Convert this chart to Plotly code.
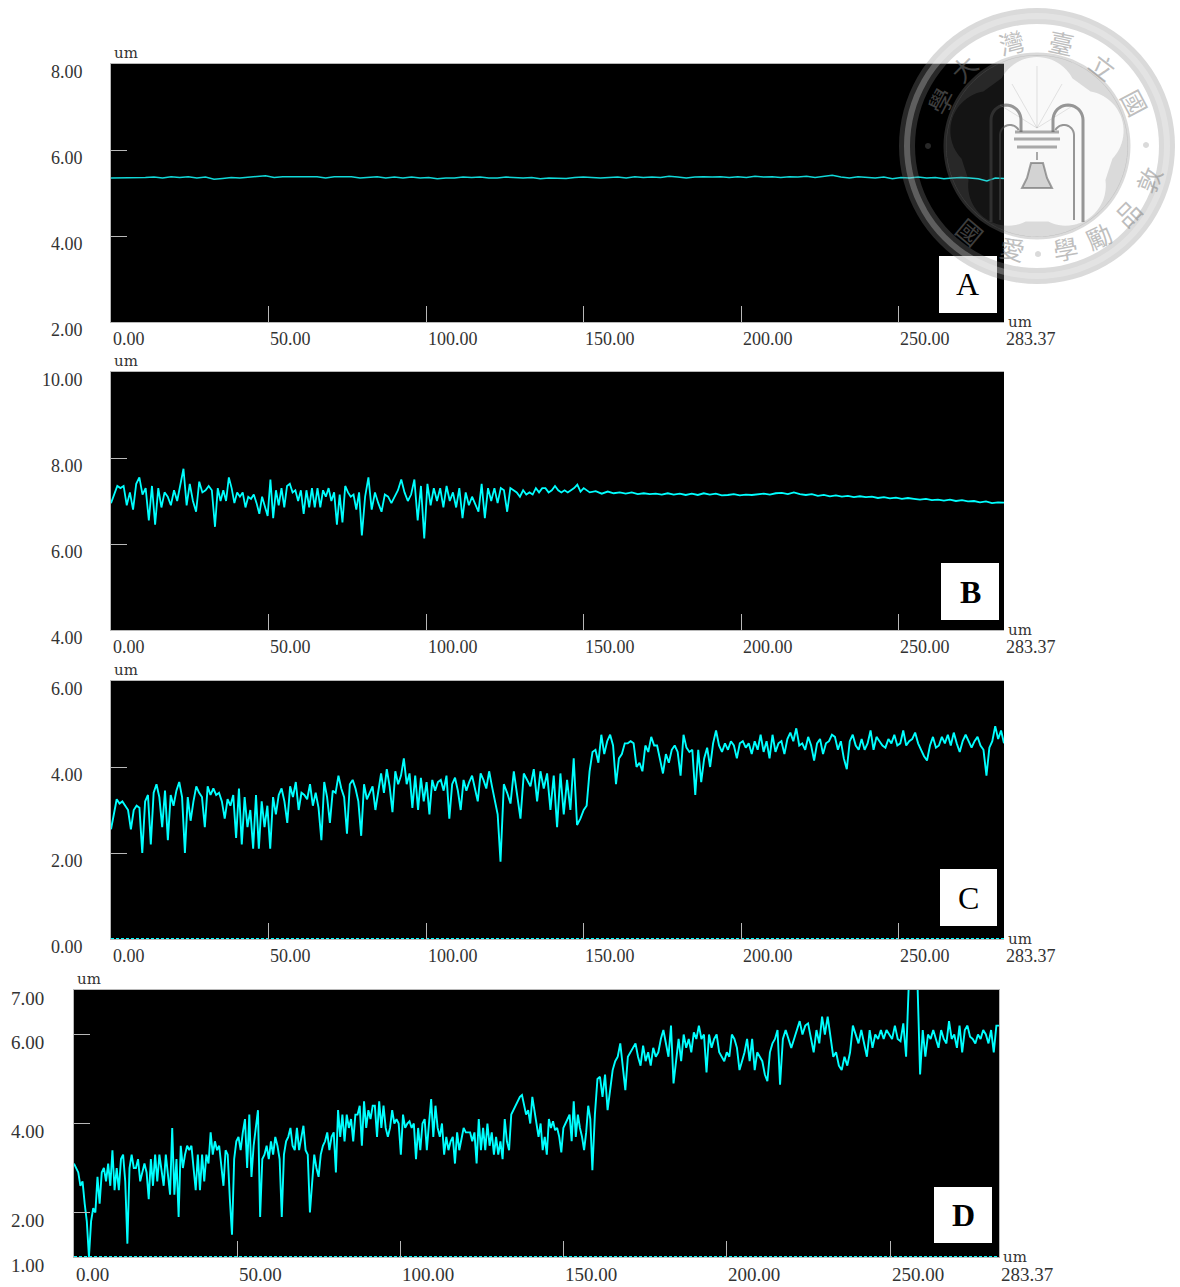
import math
import plotly.graph_objects as go

W, H = 1180, 1287
CYAN = "#00ffff"
TICK = "#b8b8b8"
TXT = "#333333"
SERIF = "Liberation Serif"

X_MAX = 283.37
x_ticks = [0, 50, 100, 150, 200, 250, X_MAX]
x_labels = ["0.00", "50.00", "100.00", "150.00", "200.00", "250.00", "283.37"]

a_ticks = [2, 4, 6, 8]
a_labels = ["2.00", "4.00", "6.00", "8.00"]
b_ticks = [4, 6, 8, 10]
b_labels = ["4.00", "6.00", "8.00", "10.00"]
c_ticks = [0, 2, 4, 6]
c_labels = ["0.00", "2.00", "4.00", "6.00"]
d_ticks = [1, 2, 4, 6, 7]
d_labels = ["1.00", "2.00", "4.00", "6.00", "7.00"]

panel_letters = ["A", "B", "C", "D"]

a_vals = [5.35, 5.35, 5.35, 5.36, 5.37, 5.35, 5.38, 5.36, 5.38, 5.35, 5.37, 5.32, 5.34, 5.36, 5.35, 5.37, 5.38, 5.4, 5.36,
          5.38, 5.38, 5.38, 5.38, 5.38, 5.35, 5.38, 5.38, 5.38, 5.35, 5.37, 5.38, 5.35, 5.37, 5.35, 5.37, 5.35, 5.36, 5.33,
          5.35, 5.35, 5.37, 5.36, 5.37, 5.35, 5.35, 5.37, 5.36, 5.35, 5.36, 5.33, 5.35, 5.35, 5.34, 5.36, 5.37, 5.36, 5.35,
          5.36, 5.37, 5.35, 5.38, 5.36, 5.37, 5.36, 5.39, 5.37, 5.35, 5.37, 5.38, 5.37, 5.38, 5.36, 5.38, 5.36, 5.39, 5.37,
          5.38, 5.36, 5.38, 5.37, 5.39, 5.36, 5.38, 5.41, 5.37, 5.35, 5.38, 5.37, 5.35, 5.37, 5.33, 5.36, 5.35, 5.37, 5.35,
          5.36, 5.33, 5.35, 5.36, 5.35, 5.33, 5.28, 5.35, 5.34]

b_seg1 = [6.95, 7.35, 7.3, 7.35, 6.9, 7.2, 6.8, 7.4, 7.55, 7.15, 7.3, 6.55, 7.35, 6.45, 7.3, 6.85, 7.2, 7.1, 6.9, 7.25, 7.0,
          7.4, 7.75, 6.9, 7.4, 7.0, 6.75, 7.45, 7.2, 7.25, 7.35, 7.25, 6.4]
b_seg2 = [7.3, 7.0, 7.25, 7.0, 7.55, 7.3, 6.95, 7.2, 7.1, 7.2, 6.85, 7.1, 7.05, 7.15, 6.95, 6.7, 7.1, 6.85, 6.65, 7.5, 6.6,
          7.25, 6.9, 7.3, 6.85, 7.35, 7.4, 7.2, 7.25, 7.0, 7.25, 6.7, 7.25, 6.85, 7.3, 6.85, 7.3, 6.85, 7.25, 7.1, 7.3, 7.0,
          7.2, 6.45, 7.15, 6.5, 7.35, 7.2, 7.1, 7.15, 6.8, 7.2, 6.2]
b_seg3 = [7.1, 7.55, 6.8, 7.2, 6.95, 6.75, 7.15, 7.1, 6.95, 7.1, 7.25, 7.5, 7.2, 7.0, 7.15, 7.5, 6.55, 7.35, 6.13]
b_seg4 = [7.4, 6.9, 7.3, 7.0, 7.3, 6.85, 7.35, 7.0, 7.2, 6.85, 7.3, 6.6, 7.2, 6.9, 7.1, 6.9, 6.75, 7.4, 6.6, 7.3, 7.0, 7.3,
          6.95, 7.3, 7.25, 6.75, 7.3, 7.25, 7.2, 7.1, 7.25, 7.15, 7.2, 7.15, 7.3, 7.2, 7.3, 7.3, 7.2, 7.25, 7.35, 7.25, 7.2,
          7.25, 7.2, 7.25, 7.3, 7.38, 7.22, 7.3]
b_seg5 = [7.2, 7.23, 7.17, 7.22, 7.18, 7.2, 7.17, 7.2, 7.16, 7.18, 7.16, 7.17, 7.15, 7.18, 7.15, 7.17, 7.14, 7.17, 7.14,
          7.18, 7.15, 7.17, 7.13, 7.14, 7.16, 7.13, 7.15, 7.14, 7.16, 7.17, 7.15, 7.18, 7.19, 7.16, 7.2, 7.16, 7.14, 7.16,
          7.12, 7.14, 7.11, 7.13, 7.1, 7.12, 7.09, 7.11, 7.09, 7.1, 7.07, 7.09, 7.06, 7.08, 7.05, 7.07, 7.05, 7.03, 7.05,
          7.02, 7.03, 7.01, 7.03, 7.0, 7.02, 6.99, 7.0, 6.97, 6.99, 6.95, 6.97, 6.96]

c_seg1 = [2.55, 3.25, 3.15, 3.2, 3.1, 3.0, 2.55, 3.0, 3.1, 3.05, 2.0, 3.2, 3.35, 2.2, 3.4, 3.6, 3.3, 2.6, 3.45, 2.3, 3.35, 3.1,
          3.45, 3.65, 3.3, 2.0, 3.3, 2.75, 3.2, 3.55, 3.4, 3.3, 2.6, 3.55, 3.35, 3.5, 3.35, 3.4, 3.2, 2.8, 3.25, 3.1, 3.35, 2.35,
          3.5, 2.2, 3.3, 2.6, 3.0, 2.1, 3.35, 2.1, 3.2, 2.6, 3.1, 2.1, 3.3, 2.9, 3.35, 3.5, 3.2, 2.7, 3.55, 3.3, 3.65, 3.0, 3.4,
          3.35, 3.25, 3.6, 3.1, 3.4, 3.05, 2.3, 3.65, 3.3, 2.7, 3.45, 3.4, 3.8, 3.5, 3.3, 2.45, 3.6, 3.7, 3.5, 3.2, 2.4, 3.6,
          3.25, 3.4, 3.55, 3.0, 3.4, 3.85, 3.4, 3.95, 3.55, 2.95, 3.9, 3.6, 3.8, 4.2, 3.6, 3.85, 3.05, 3.8, 3.0, 3.75, 3.2, 3.65,
          2.9, 3.7, 3.45, 3.65, 3.7, 3.45, 3.8, 2.8, 3.6, 3.75, 3.45, 3.0, 3.7, 3.45, 3.65, 3.8, 3.5, 3.2, 3.85, 3.7, 3.5, 3.9,
          3.55, 3.2, 2.9, 1.8]
c_seg2 = [3.6, 3.4, 3.15, 3.9, 3.4, 2.8, 3.85, 3.7, 3.55, 3.95, 3.2, 3.9, 3.5, 3.85, 3.0, 3.8, 2.6, 3.85, 2.9, 3.7, 3.0, 4.2,
          2.65, 2.8, 3.0]
c_seg3 = [3.1, 3.9, 4.35, 4.4, 4.1, 4.75, 4.3, 4.6, 4.75, 4.5, 3.6, 4.2, 4.3, 4.55, 4.55, 4.6, 4.55, 4.0, 4.1, 3.9, 4.5, 4.35,
          4.7, 4.5, 4.5, 4.2, 3.85, 4.3, 4.1, 4.4, 4.5, 4.35, 3.8, 4.75, 4.45, 4.35, 4.4, 3.35]
c_seg4 = [4.4, 3.65, 4.2, 4.45, 4.0, 4.55, 4.85, 4.5, 4.35, 4.55, 4.4, 4.6, 4.5, 4.2, 4.55, 4.6, 4.45, 4.55, 4.3, 4.6, 4.4, 4.75,
          4.35, 4.6, 4.2, 4.75, 4.35, 4.55, 4.6, 4.3, 4.65, 4.8, 4.6, 4.9, 4.5, 4.55, 4.4, 4.7, 4.5, 4.15, 4.55, 4.65, 4.3, 4.55,
          4.6, 4.75, 4.7, 4.4, 4.6, 4.2, 3.95, 4.6, 4.75, 4.5, 4.4, 4.65, 4.4, 4.55, 4.85, 4.4, 4.7, 4.6, 4.5, 4.45, 4.65, 4.55,
          4.75, 4.5, 4.55, 4.85, 4.5, 4.6, 4.65, 4.8, 4.55, 4.4, 4.25, 4.15, 4.5, 4.7, 4.45, 4.5, 4.7, 4.55, 4.75, 4.5, 4.8, 4.55,
          4.35, 4.6, 4.75, 4.6, 4.45, 4.6, 4.7, 4.5, 4.4, 3.8]
c_seg5 = [4.45, 4.6, 4.95, 4.65, 4.85, 4.55]

d_seg1 = [3.1, 2.9, 2.6, 2.7, 2.2, 1.8, 1.0, 1.8, 2.1, 2.0, 2.8, 2.2, 2.9, 3.0, 2.7, 3.1, 2.6, 3.4, 2.5, 3.0, 2.5, 3.2, 3.3, 2.7,
          1.3, 3.0, 3.3, 3.0, 3.0, 3.2, 2.7, 2.9, 3.1, 2.9, 2.3, 3.2, 2.6, 3.3, 2.7, 3.3, 3.0, 2.6, 3.3, 2.9, 2.4, 3.9, 2.4, 3.2,
          1.9, 3.5, 3.0, 3.3, 3.5, 3.4, 3.5, 3.0, 2.5, 3.3, 2.5, 3.3, 2.7, 3.3, 3.1, 3.8, 3.3, 3.6, 3.4, 3.5, 3.0, 2.6, 3.4, 3.3,
          2.3, 1.5]
d_seg2 = [3.2, 3.6, 3.7, 3.4, 3.8, 4.1, 3.0, 4.2, 2.8, 3.5, 3.9, 4.3, 1.9, 3.2, 3.3, 3.5, 3.2, 3.6, 3.3, 3.7, 3.5, 3.2, 1.9, 3.3,
          3.6, 3.7, 3.9, 3.5, 3.4, 3.9, 3.4, 3.7, 3.95, 3.4, 3.3, 2.0, 2.6, 3.3, 3.0, 2.8, 3.3, 3.5, 3.6, 3.8, 3.4, 3.7, 3.8, 2.9,
          4.3, 3.7, 4.2, 3.6, 4.2, 3.9, 4.1, 3.6, 4.2, 4.2, 4.4, 3.5, 4.5, 3.9, 4.3, 4.1, 4.4, 4.4, 3.7, 4.5, 3.9, 4.4, 3.9, 3.7,
          3.9, 4.3, 4.0, 4.1, 4.0, 3.3, 4.2, 3.9, 4.0, 4.05, 3.9, 4.0, 3.2, 3.9, 3.4, 4.0, 4.1, 3.4, 4.0, 4.55, 3.7, 4.4, 3.9, 3.7,
          4.0, 3.3, 3.7, 3.4, 3.6, 3.7, 3.1, 3.8, 3.4, 3.7, 3.9, 3.8, 3.8, 3.8, 3.6, 3.8, 3.1, 4.1, 3.4, 3.9, 3.4, 4.0, 3.5, 3.8,
          3.3, 3.7, 3.3, 3.6, 3.2, 4.1, 3.6, 3.4, 4.2, 4.3, 4.4, 4.5, 4.6]
d_seg3 = [4.64, 4.4, 4.2, 4.3, 4.0, 4.6, 4.3, 3.9, 3.7, 4.0, 3.4, 3.7, 3.3, 4.1, 3.9, 4.05, 3.85, 3.9, 3.7, 3.35, 3.9, 4.0, 4.1,
          4.2, 3.6, 4.5, 3.7, 4.2, 3.9, 3.7, 3.4, 3.8, 4.4, 4.1, 2.95]
d_seg4 = [4.2, 5.0, 5.05, 4.6, 5.1, 4.3, 4.7, 5.2, 5.4, 5.5, 5.8, 5.2, 4.75, 5.5, 5.6, 5.7, 5.8, 5.5, 5.3, 5.75, 5.4, 5.6, 5.3,
          5.7, 5.5, 5.6, 5.9, 6.1, 5.8, 5.5, 6.2, 4.9, 5.4, 5.9, 5.4, 6.0, 5.7, 5.9, 5.6, 6.05, 5.9, 6.2, 5.9, 6.0, 5.15, 6.0, 5.7,
          5.9, 6.0, 5.6, 5.5, 5.4, 5.6, 5.5, 6.0, 5.9, 5.7, 5.2, 5.4, 5.6, 5.9, 5.4, 5.9, 5.2, 5.6, 5.5, 5.4, 5.1, 4.95, 5.6, 5.8,
          5.9, 6.1, 4.87]
d_seg5 = [5.9, 6.1, 5.9, 5.7, 5.9, 6.1, 6.3, 6.0, 6.2, 6.25, 5.9, 5.6, 6.1, 5.8, 6.4, 6.0, 6.4, 5.9, 5.5, 5.6, 5.3, 5.2, 5.5, 5.3,
          5.6, 6.2, 6.0, 5.8, 6.1, 5.8, 5.5, 6.1, 5.7, 6.0, 5.9, 6.1, 5.9, 6.1, 6.0, 5.9, 6.2, 5.9, 5.85, 6.25, 5.5, 7.2, 7.3, 7.2,
          7.3, 5.1]
d_seg6 = [6.1, 5.5, 6.0, 5.9, 6.1, 5.9, 5.7, 6.1, 5.9, 5.8, 6.3, 5.9, 6.0, 5.7, 6.2, 5.6, 6.1, 6.2, 5.95, 5.9, 5.8, 6.0, 5.9,
          6.1, 6.0, 5.8, 6.1, 5.6, 6.2, 6.2]

b_breaks = [0, 33, 79.6, 99.4, 150, X_MAX]
c_breaks = [0, 123.6, 150, 185.4, 277.8, X_MAX]
d_breaks = [0, 48.4, 136.6, 158.8, 216.3, 259.2, X_MAX]


def stitch(breaks, segments):
    xs, ys = [], []
    for i, seg in enumerate(segments):
        a, b = breaks[i], breaks[i + 1]
        n = len(seg)
        xs += [a + (b - a) * (k + 1) / n if i or k else 0 for k in range(n)]
        ys += seg
    return xs, ys


a_x, a_y = stitch([0, X_MAX], [a_vals])
b_x, b_y = stitch(b_breaks, [b_seg1, b_seg2, b_seg3, b_seg4, b_seg5])
c_x, c_y = stitch(c_breaks, [c_seg1, c_seg2, c_seg3, c_seg4, c_seg5])
d_x, d_y = stitch(d_breaks, [d_seg1, d_seg2, d_seg3, d_seg4, d_seg5, d_seg6])


def px(x):
    return x / W


def py(y):
    return 1 - y / H


panels = [
    dict(box=(111, 1004, 64, 322), ticks=a_ticks, labels=a_labels, rng=(2, 8), x=a_x, y=a_y, col="#10d8d8", w=1.5,
         base=False, lab_x=85, fs=18, letter=(939, 997, 256, 313), bold=False),
    dict(box=(111, 1004, 372, 630), ticks=b_ticks, labels=b_labels, rng=(4, 10), x=b_x, y=b_y, col=CYAN, w=1.8,
         base=False, lab_x=85, fs=18, letter=(941, 999, 563, 620), bold=True),
    dict(box=(111, 1004, 681, 939), ticks=c_ticks, labels=c_labels, rng=(0, 6), x=c_x, y=c_y, col=CYAN, w=1.9,
         base=True, lab_x=85, fs=18, letter=(940, 997, 869, 926), bold=False),
    dict(box=(74, 999, 990, 1257), ticks=d_ticks, labels=d_labels, rng=(1, 7), x=d_x, y=d_y, col=CYAN, w=1.9,
         base=True, lab_x=46, fs=19, letter=(934, 992, 1187, 1243), bold=True),
]

fig = go.Figure()
shapes, annos = [], []

for i, p in enumerate(panels):
    n = "" if i == 0 else str(i + 1)
    xa, ya = "x" + n, "y" + n
    x0, x1, y0, y1 = p["box"]
    fig.add_trace(go.Scatter(x=p["x"], y=p["y"], mode="lines", line=dict(color=p["col"], width=p["w"]),
                             xaxis=xa, yaxis=ya, showlegend=False, hoverinfo="skip"))
    if p["base"]:
        fig.add_trace(go.Scatter(x=[0, X_MAX], y=[p["rng"][0], p["rng"][0]], mode="lines",
                                 line=dict(color=CYAN, width=2, dash="3px,2px"),
                                 xaxis=xa, yaxis=ya, showlegend=False, hoverinfo="skip", cliponaxis=False))
    fig.update_layout({
        "xaxis" + n: dict(domain=[px(x0), px(x1)], range=[0, X_MAX], anchor=ya, tickvals=x_ticks, showticklabels=False,
                          ticks="inside", ticklen=16, tickcolor=TICK, tickwidth=1, showgrid=False, zeroline=False,
                          showline=True, linecolor=TICK, linewidth=1, mirror=True),
        "yaxis" + n: dict(domain=[py(y1), py(y0)], range=list(p["rng"]), anchor=xa, tickvals=p["ticks"],
                          showticklabels=False, ticks="inside", ticklen=16, tickcolor=TICK, tickwidth=1, showgrid=False,
                          zeroline=False, showline=True, linecolor=TICK, linewidth=1, mirror=(i == 3)),
    })
    f = dict(family=SERIF, size=p["fs"], color=TXT)
    small = dict(family="DejaVu Serif", size=15, color=TXT)
    for v, t in zip(x_ticks, x_labels):
        annos.append(dict(x=v, xref=xa, y=0, yref=ya + " domain", text=t, showarrow=False, xanchor="left", yanchor="middle",
                          xshift=-0.5, yshift=-17, font=f))
    for v, t in zip(p["ticks"], p["labels"]):
        annos.append(dict(x=px(p["lab_x"]), xref="paper", y=v, yref=ya, text=t, showarrow=False, xanchor="right",
                          yanchor="middle", yshift=-8, font=f))
    annos.append(dict(x=0, xref=xa, y=1, yref=ya + " domain", text="um", showarrow=False, xanchor="left", yanchor="middle",
                      xshift=1, yshift=11, font=small))
    annos.append(dict(x=X_MAX, xref=xa, y=0, yref=ya + " domain", text="um", showarrow=False, xanchor="left",
                      yanchor="middle", xshift=2, yshift=0, font=small))
    lx0, lx1, ly0, ly1 = p["letter"]
    shapes.append(dict(type="rect", xref="paper", yref="paper", x0=px(lx0), x1=px(lx1), y0=py(ly1), y1=py(ly0),
                       fillcolor="white", line_width=0, layer="above"))
    text = panel_letters[i]
    annos.append(dict(x=px((lx0 + lx1) / 2), xref="paper", y=py((ly0 + ly1) / 2), yref="paper",
                      text=f"<b>{text}</b>" if p["bold"] else text, showarrow=False, xanchor="center", yanchor="middle",
                      font=dict(family=SERIF, size=32, color="black")))

# ---- university seal watermark (decoration only) ----
CX, CY = 1037, 146
SEAL = "rgba(132,132,132,0.30)"


def circle_pts(cx, cy, r, a0=0.0, a1=360.0, n=96):
    return [(cx + r * math.cos(math.radians(a0 + (a1 - a0) * k / n)),
             cy + r * math.sin(math.radians(a0 + (a1 - a0) * k / n))) for k in range(n + 1)]


def path(pts, close=True):
    s = "M " + " L ".join(f"{px(x):.5f},{py(y):.5f}" for x, y in pts)
    return s + (" Z" if close else "")


def flower_pts():
    pts = []
    for k in range(5):
        c = -90 + 72 * k
        ccx = CX + 49 * math.cos(math.radians(c))
        ccy = CY + 49 * math.sin(math.radians(c))
        pts += circle_pts(ccx, ccy, 40, c - 62, c + 62, 24)
    return pts


def add_path(d, fill=None, line=None, width=0):
    shapes.append(dict(type="path", xref="paper", yref="paper", path=d, layer="above", fillcolor=fill or "rgba(0,0,0,0)",
                       line=dict(color=line or "rgba(0,0,0,0)", width=width)))


add_path(path(circle_pts(CX, CY, 138)) + " " + path(circle_pts(CX, CY, 122)), fill=SEAL)
add_path(path(circle_pts(CX, CY, 130), close=True), line="rgba(255,255,255,0.25)", width=6)
add_path(path(circle_pts(CX, CY, 91)) + " " + path(flower_pts()), fill=SEAL)
add_path(path(flower_pts()), fill="rgba(200,200,200,0.10)")
add_path(path(circle_pts(CX, CY, 92)), line=SEAL, width=3)
for dx, dy in [(928, 146), (1146, 145), (1038, 254)]:
    add_path(path(circle_pts(dx, dy, 3, n=16)), fill=SEAL)

DARK = "rgba(70,70,70,0.55)"
arch_l = [(991, 222), (991, 122)] + circle_pts(1006, 120, 15, 180, 360, 20) + [(1021, 132)]
arch_l2 = [(1000, 220), (1000, 135)] + circle_pts(1010, 135, 10, 180, 330, 14)
arch_r = [(1083, 222), (1083, 122)] + circle_pts(1068, 120, 15, 360, 180, 20) + [(1053, 132)]
arch_r2 = [(1074, 220), (1074, 135)] + circle_pts(1064, 135, 10, 360, 210, 14)
for pts, wd in [(arch_l, 3), (arch_l2, 2), (arch_r, 3), (arch_r2, 2)]:
    add_path(path(pts, close=False), line=DARK, width=wd)
for ry, half in [(132, 22), (139, 23), (147, 20)]:
    add_path(path([(1037 - half, ry), (1037 + half, ry)], close=False), line="rgba(90,90,90,0.5)", width=3)
add_path(path([(1037, 152), (1037, 160)], close=False), line="rgba(90,90,90,0.5)", width=2)
add_path(path([(1031, 163), (1043, 163), (1047, 178), (1052, 188), (1022, 188), (1027, 178)]),
         fill="rgba(140,140,140,0.35)", line="rgba(90,90,90,0.55)", width=2)
for x_end, y_end in [(1037, 66), (1012, 84), (1062, 84), (1000, 105), (1074, 105)]:
    add_path(path([(1037, 128), (x_end, y_end)], close=False), line="rgba(150,150,150,0.25)", width=1)

seal_chars = [("大", 963, 68, -45), ("灣", 1011, 42, -14), ("臺", 1061, 42, 12), ("立", 1103, 66, 38), ("國", 1135, 102, 62),
              ("學", 940, 101, -62), ("敦", 1148, 180, -68), ("品", 1127, 213, -45), ("勵", 1098, 236, -25),
              ("學", 1065, 248, -10), ("愛", 1012, 248, 12), ("國", 970, 231, 40)]
for ch, sx, sy, ang in seal_chars:
    annos.append(dict(x=px(sx), xref="paper", y=py(sy), yref="paper", text=ch, showarrow=False, textangle=ang,
                      xanchor="center", yanchor="middle",
                      font=dict(family="Noto Sans CJK TC", size=25, color="rgba(125,125,125,0.5)")))

fig.update_layout(width=W, height=H, margin=dict(l=0, r=0, t=0, b=0), paper_bgcolor="white", plot_bgcolor="black",
                  showlegend=False, shapes=shapes, annotations=annos)
fig.write_html("out.html", post_script="document.body.style.margin='0';", config={"displayModeBar": False})
